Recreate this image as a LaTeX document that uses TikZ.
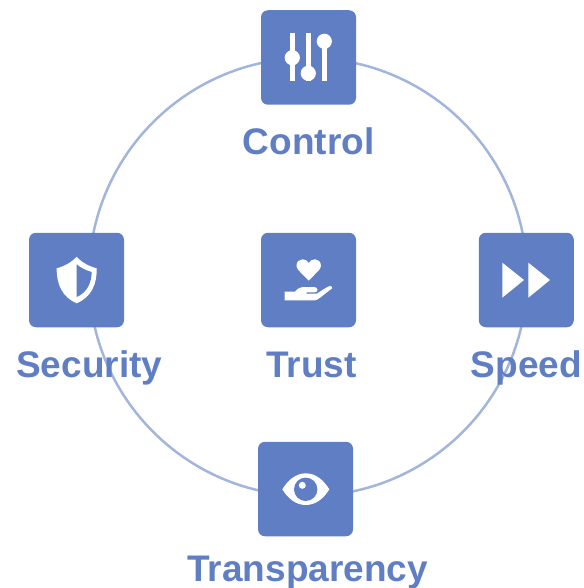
\documentclass[tikz,border=0pt]{standalone}
\usepackage{fontspec}
\setmainfont{Liberation Sans}
\definecolor{tile}{HTML}{5F7EC3}
\definecolor{ringc}{HTML}{A2B5DC}
\tikzset{
  tilebox/.style={draw=none,fill=tile,rounded corners=7pt,minimum width=95pt,minimum height=94.5pt,inner sep=0pt},
  lab/.style={text=tile,font=\fontsize{37pt}{40pt}\selectfont\bfseries,inner sep=0pt,anchor=base},
  ico/.style={fill=white,draw=none},
  icocut/.style={fill=tile,draw=none}
}
\begin{document}
\begin{tikzpicture}[x=1pt,y=-1pt]
\useasboundingbox (0,0) rectangle (583,588);
\node[circle,draw=ringc,line width=2.5pt,minimum size=438pt,inner sep=0pt] (ring) at (308,277) {};
\node[tilebox] (control) at (308.5,57.5) {};
\node[tilebox] (security) at (76.5,280) {};
\node[tilebox] (trust) at (308.5,280) {};
\node[tilebox] (speed) at (526.3,280) {};
\node[tilebox] (transp) at (305.5,489) {};
\node[lab] (lcontrol) at (308.7,154) {Control};
\node[lab] (lsecurity) at (89.3,377) {Security};
\node[lab] (ltrust) at (311.3,377) {Trust};
\node[lab] (lspeed) at (526.3,377) {Speed};
\node[lab] (ltransp) at (307.7,581.5) {Transparency};
% sliders
\fill[ico] (289.8,33) rectangle (294.8,81);
\fill[ico] (305.8,33) rectangle (310.8,81);
\fill[ico] (321.8,41) rectangle (326.8,81);
\fill[ico] (292.3,57.7) circle (7.6);
\fill[ico] (308.3,73.3) circle (7.6);
\fill[ico] (324.3,41.3) circle (7.6);
% shield
\fill[ico] (76.7,256.7) .. controls (72,262) and (64,266.5) .. (56.7,268.3)
  .. controls (56.5,284) and (62,297) .. (76.7,303.3)
  .. controls (91.5,297) and (97,284) .. (96.7,268.3)
  .. controls (89,266.5) and (81,262) .. (76.7,256.7) -- cycle;
\fill[icocut] (76.7,264.3) .. controls (80,267.5) and (86,270.5) .. (91.7,272)
  .. controls (91.5,283) and (87,292.5) .. (76.7,297) -- cycle;
% heart
\fill[ico] (308.7,280.7) -- (298.3,270) .. controls (296.8,268.3) and (296.5,266.5) .. (296.5,265.5)
  .. controls (296.5,261.5) and (299.5,259.3) .. (302.5,259.3)
  .. controls (305,259.3) and (307.5,260.5) .. (308.7,263)
  .. controls (310,260.5) and (312.5,259.3) .. (315,259.3)
  .. controls (318,259.3) and (320.9,261.5) .. (320.9,265.5)
  .. controls (320.9,266.5) and (320.6,268.3) .. (319.1,270) -- cycle;
% hand
\fill[ico] (284.7,291.5) -- (295,291.5) .. controls (298,288.5) and (300,287) .. (303,287)
  -- (314,287) .. controls (318,287) and (319,292) .. (315,292.3)
  -- (306.5,292.3) -- (306.5,293.8) -- (317,293.5)
  .. controls (321,291) and (326,287.5) .. (329.5,286)
  .. controls (331.5,285.3) and (333,287.5) .. (332,288.5)
  .. controls (327,292) and (322,296.5) .. (317.5,299.5)
  -- (315,300.3) -- (284.7,300.3) -- cycle;
% speed
\fill[ico] (502.3,262.7) -- (502.3,297.7) -- (524,280) -- cycle;
\fill[ico] (528.3,262.7) -- (528.3,297.7) -- (550,280) -- cycle;
% eye
\fill[ico] (282.3,489.3) .. controls (288,480) and (296,473.3) .. (305.8,473.3)
  .. controls (315.6,473.3) and (323.6,480) .. (329.3,489.3)
  .. controls (323.6,498.6) and (315.6,505) .. (305.8,505)
  .. controls (296,505) and (288,498.6) .. (282.3,489.3) -- cycle;
\fill[icocut] (305.7,489.3) circle (11.7);
\fill[ico] (302.3,485.3) circle (3.5);
\end{tikzpicture}
\end{document}
